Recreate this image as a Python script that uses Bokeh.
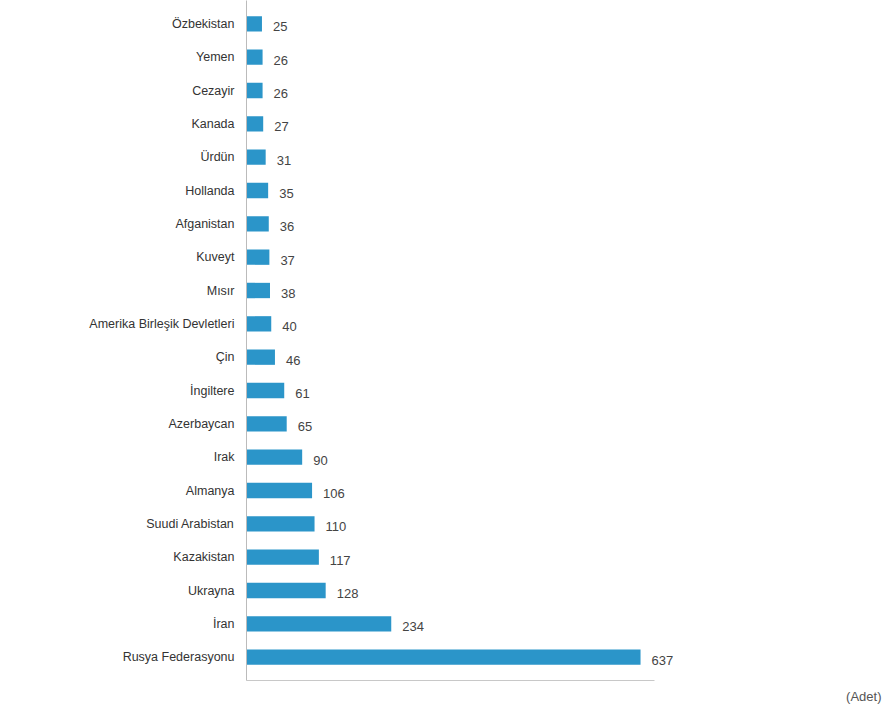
from bokeh.plotting import figure
from bokeh.models import ColumnDataSource, Range1d, FactorRange, Title
from bokeh.core.properties import value
from bokeh.embed import file_html
from bokeh.resources import INLINE

countries = ["Özbekistan", "Yemen", "Cezayir", "Kanada", "Ürdün", "Hollanda",
             "Afganistan", "Kuveyt", "Mısır", "Amerika Birleşik Devletleri",
             "Çin", "İngiltere", "Azerbaycan", "Irak", "Almanya",
             "Suudi Arabistan", "Kazakistan", "Ukrayna", "İran", "Rusya Federasyonu"]
counts = [25, 26, 26, 27, 31, 35, 36, 37, 38, 40, 46, 61, 65, 90, 106, 110, 117, 128, 234, 637]
unit_label = "(Adet)"

FONT = "Liberation Sans"
BAR = "#2b95c9"

src = ColumnDataSource(dict(country=countries, count=counts,
                            label=[str(v) for v in counts]))

p = figure(width=885, height=710, output_backend="svg", toolbar_location=None,
           y_range=FactorRange(factors=list(reversed(countries)), range_padding=0.2,
                               range_padding_units="absolute"),
           x_range=Range1d(0, 1033),
           min_border_left=246, min_border_right=0, min_border_top=0,
           min_border_bottom=30)
p.hbar(y="country", right="count", left=0, height=0.46, source=src,
       fill_color=BAR, line_color=None)
p.text(x="count", y="country", text="label", source=src, x_offset=11, y_offset=3,
       text_font=value(FONT), text_font_size="13px", text_color="#444444",
       text_baseline="middle", text_align="left")

p.outline_line_color = None
p.grid.grid_line_color = None
p.background_fill_color = "white"
p.border_fill_color = "white"

ya = p.yaxis[0]
ya.axis_line_color = "#bbbbbb"
ya.major_tick_line_color = None
ya.minor_tick_line_color = None
ya.major_label_text_font = FONT
ya.major_label_text_font_size = "12.5px"
ya.major_label_text_color = "#333333"
ya.major_label_standoff = 6

xa = p.xaxis[0]
xa.bounds = (0, 660)
xa.axis_line_color = "#c8c8c8"
xa.major_tick_line_color = None
xa.minor_tick_line_color = None
xa.major_label_text_font_size = "0px"
xa.major_label_text_color = None
xa.major_label_standoff = 0

p.add_layout(Title(text=unit_label, align="right", text_font=FONT,
                   text_font_size="13px", text_font_style="normal",
                   text_color="#555555", offset=4, standoff=0), "below")

open("out.html", "w").write(file_html(p, INLINE))
